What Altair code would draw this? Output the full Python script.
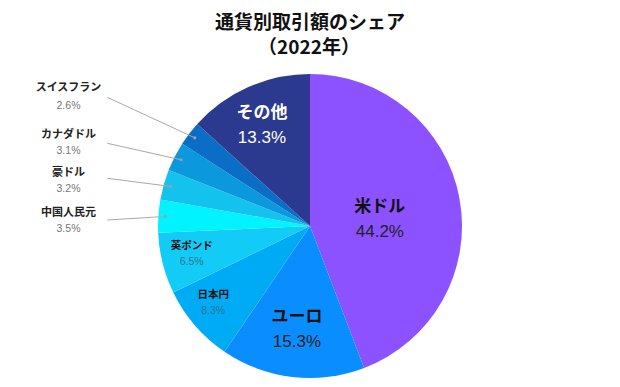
import math
import altair as alt
import pandas as pd

# ---- data ----
currencies = ["米ドル", "ユーロ", "日本円", "英ポンド", "中国人民元", "豪ドル", "カナダドル", "スイスフラン", "その他"]
shares = [44.2, 15.3, 8.3, 6.5, 3.5, 3.2, 3.1, 2.6, 13.3]
title_lines = ["通貨別取引額のシェア", "（2022年）"]

# ---- styles / layout ----
colors = ["#8C52FF", "#0A8EFF", "#00ABF6", "#12CBF7", "#00F3FF", "#14C2EE", "#0B98DD", "#0A6DC6", "#2B3A8F"]
CX, CY, R = 302, 218, 152
LEADER_R = 145
JP = "Noto Sans CJK JP"
NUM = "Liberation Sans"

# inside labels: radius, dx, dy, gap, name size, pct size, name color, pct color
inside_layout = {
    "米ドル": (70, 1, 6, 12.5, 17, 17, "#111111", "#222222"),
    "ユーロ": (104, -1, 0, 12.5, 17, 17, "#111111", "#222222"),
    "その他": (111, -3, 1, 12.5, 17, 17, "#ffffff", "#ffffff"),
    "英ポンド": (122, 0, -2, 8.3, 10.5, 10.5, "#111111", "#2a7690"),
    "日本円": (124, -3, -4, 8.3, 10.5, 10.5, "#111111", "#2a7690"),
}

# outside labels: text x, name y, pct y, leader start x, leader start y
outside_layout = pd.DataFrame({
    "name": ["スイスフラン", "カナダドル", "豪ドル", "中国人民元"],
    "tx": [60.5, 60.5, 60.5, 60.5],
    "ny": [80, 126.5, 164.5, 204.5],
    "py": [97.5, 143, 180.5, 221],
    "lx": [99.3, 99.3, 99.3, 99.3],
    "ly": [89.3, 135.3, 170.3, 212],
})

df = pd.DataFrame({"name": currencies, "share": shares, "order": list(range(len(currencies)))})

base = alt.Chart(df).transform_window(
    cum="sum(share)", sort=[alt.SortField("order")], frame=[None, 0]
).transform_calculate(
    start="datum.cum - datum.share",
    mid="datum.cum - datum.share / 2",
    pct="format(datum.share, '.1f') + '%'",
)

theta_scale = alt.Scale(domain=[0, 100], range=[0, 2 * math.pi])

pie = base.mark_arc(outerRadius=R, strokeWidth=0).encode(
    theta=alt.Theta("start:Q", scale=theta_scale, stack=None),
    theta2="cum:Q",
    color=alt.Color("name:N", scale=alt.Scale(domain=currencies, range=colors), legend=None),
    x=alt.value(CX),
    y=alt.value(CY),
)

layers = [pie]

for name, (r, dx, dy, gap, ns, ps, nc, pc) in inside_layout.items():
    sub = base.transform_filter(alt.datum.name == name)
    layers.append(
        sub.mark_text(radius=r, dx=dx, dy=dy - gap, font=JP, fontWeight="bold", fontSize=ns,
                      color=nc, baseline="middle", align="center").encode(
            theta=alt.Theta("mid:Q", scale=theta_scale, stack=None),
            text="name:N", x=alt.value(CX), y=alt.value(CY))
    )
    layers.append(
        sub.mark_text(radius=r, dx=dx, dy=dy + gap, font=NUM, fontSize=ps,
                      color=pc, baseline="middle", align="center").encode(
            theta=alt.Theta("mid:Q", scale=theta_scale, stack=None),
            text="pct:N", x=alt.value(CX), y=alt.value(CY))
    )

outside = base.transform_lookup(
    lookup="name",
    from_=alt.LookupData(outside_layout, "name", ["tx", "ny", "py", "lx", "ly"]),
).transform_filter("isValid(datum.tx)").transform_calculate(
    ex=f"{CX} + {LEADER_R} * sin(2 * PI * datum.mid / 100)",
    ey=f"{CY} - {LEADER_R} * cos(2 * PI * datum.mid / 100)",
)

layers.append(outside.mark_rule(color="#a8a8a8", strokeWidth=1).encode(
    x=alt.X("lx:Q", scale=None, axis=None), y=alt.Y("ly:Q", scale=None, axis=None),
    x2="ex:Q", y2="ey:Q"))
layers.append(outside.mark_circle(size=10, color="#a0a0a0", opacity=1).encode(
    x=alt.X("ex:Q", scale=None, axis=None), y=alt.Y("ey:Q", scale=None, axis=None)))
layers.append(outside.mark_text(font=JP, fontWeight="bold", fontSize=11, color="#222222",
                                baseline="middle", align="center").encode(
    x=alt.X("tx:Q", scale=None, axis=None), y=alt.Y("ny:Q", scale=None, axis=None), text="name:N"))
layers.append(outside.mark_text(font=NUM, fontSize=10.5, color="#777777",
                                baseline="middle", align="center").encode(
    x=alt.X("tx:Q", scale=None, axis=None), y=alt.Y("py:Q", scale=None, axis=None), text="pct:N"))

title_df = pd.DataFrame({"t": title_lines, "i": [0, 1]})
layers.append(alt.Chart(title_df).transform_filter("datum.i == 0").mark_text(
    font=JP, fontWeight="bold", fontSize=19, color="#111111", baseline="middle", align="center").encode(
    text="t:N", x=alt.value(302), y=alt.value(15)))
layers.append(alt.Chart(title_df).transform_filter("datum.i == 1").mark_text(
    font=JP, fontWeight="bold", fontSize=19, color="#111111", baseline="middle", align="center").encode(
    text="t:N", x=alt.value(301), y=alt.value(40)))

chart = alt.layer(*layers).properties(
    width=604, height=371, padding=0, autosize="none"
).configure_view(stroke=None)

chart.save("out.html", embed_options={"renderer": "svg", "actions": False})
